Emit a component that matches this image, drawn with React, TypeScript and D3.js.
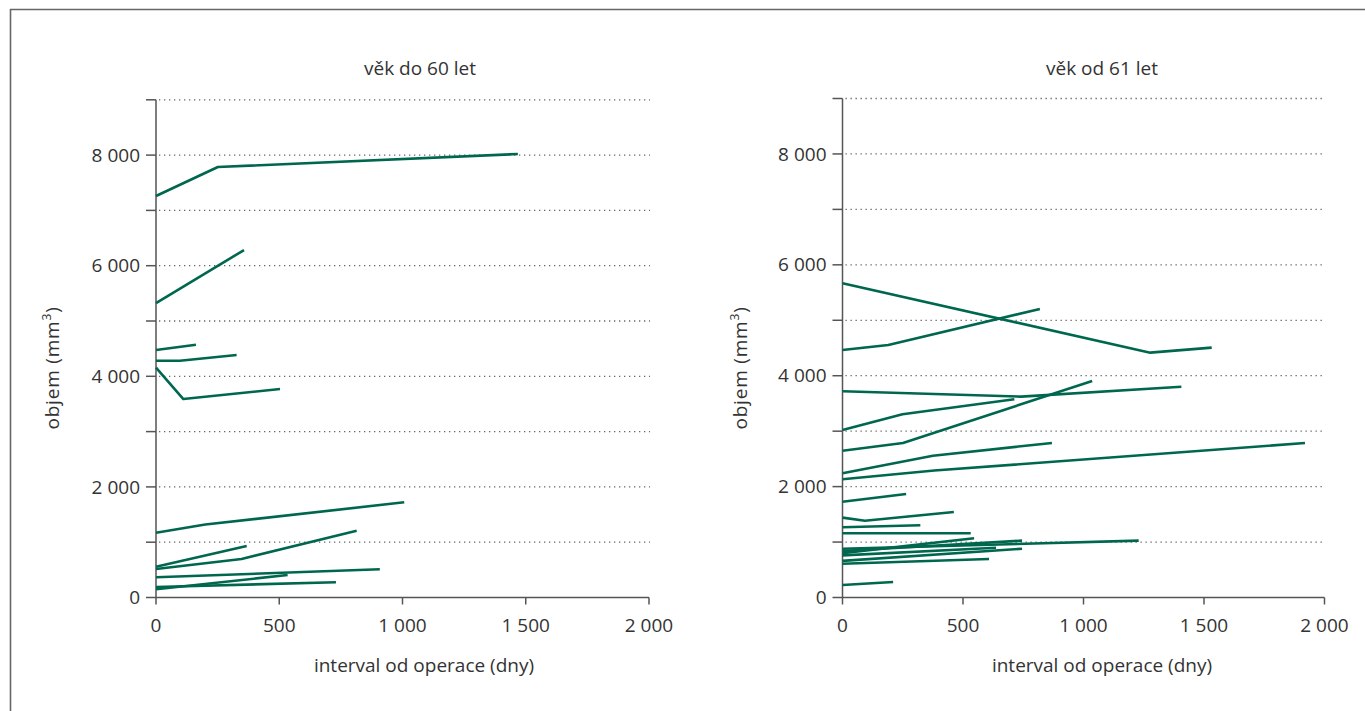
import React from "react";
import * as d3 from "d3";

// Data: each series is a list of [interval (days), volume (mm3)] points
const youngSeries: number[][][] = [
  [[0, 7260], [251, 7784], [1468, 8020]],
  [[0, 5325], [357, 6283]],
  [[0, 4475], [162, 4570]],
  [[0, 4282], [97, 4282], [327, 4385]],
  [[0, 4155], [111, 3589], [503, 3770]],
  [[0, 1171], [200, 1320], [1007, 1721]],
  [[0, 557], [368, 931]],
  [[0, 515], [347, 696], [814, 1208]],
  [[0, 365], [908, 510]],
  [[0, 148], [534, 407]],
  [[0, 190], [730, 276]],
];

const oldSeries: number[][][] = [
  [[0, 5668], [1277, 4416], [1532, 4506]],
  [[0, 4465], [190, 4555], [819, 5205]],
  [[0, 3720], [741, 3623], [1406, 3800]],
  [[0, 3022], [249, 3305], [713, 3576]],
  [[0, 2648], [251, 2787], [1036, 3906]],
  [[0, 2240], [375, 2558], [869, 2787]],
  [[0, 2133], [381, 2290], [1919, 2786]],
  [[0, 1728], [264, 1867]],
  [[0, 1440], [93, 1385], [462, 1542]],
  [[0, 1266], [323, 1302]],
  [[0, 1158], [532, 1158]],
  [[0, 800], [546, 1068]],
  [[0, 840], [745, 1025]],
  [[0, 880], [1229, 1025]],
  [[0, 760], [637, 898]],
  [[0, 660], [745, 880]],
  [[0, 610], [608, 695]],
  [[0, 225], [210, 280]],
];

const panelTitles = ["věk do 60 let", "věk od 61 let"];
const xTicks = [0, 500, 1000, 1500, 2000];
const yTicks = [0, 1000, 2000, 3000, 4000, 5000, 6000, 7000, 8000, 9000];
const yLabelTicks = [0, 2000, 4000, 6000, 8000];
const xTitle = "interval od operace (dny)";
const yTitle = "objem (mm";

const fmt = (v: number) => d3.format(",")(v).replace(/,/g, " ");

const LINE = "#00674f";
const AXIS = "#555";
const TEXT = "#333";
const FONT = "'Open Sans', 'Noto Sans', sans-serif";
const FS = 19;

type PanelProps = {
  series: number[][][];
  title: string;
  x0: number;
  x1: number;
  y0: number;
  y1: number;
  titleX: number;
  xTitleX: number;
  yTitleX: number;
};

function Panel({ series, title, x0, x1, y0, y1, titleX, xTitleX, yTitleX }: PanelProps) {
  const x = d3.scaleLinear().domain([0, 2000]).range([x0, x1]);
  const y = d3.scaleLinear().domain([0, 9000]).range([y0, y1]);
  const line = d3
    .line<number[]>()
    .x((d) => x(d[0]))
    .y((d) => y(d[1]));
  return (
    <g>
      <text x={titleX} y={75} textAnchor="middle" fontSize={FS} fill={TEXT} fontFamily={FONT}>
        {title}
      </text>
      {yTicks
        .filter((t) => t > 0)
        .map((t) => (
          <line
            key={"g" + t}
            x1={x0 + 3}
            x2={x1 + 1}
            y1={y(t)}
            y2={y(t)}
            stroke="#666"
            strokeWidth={1.3}
            strokeDasharray="1.3 3.7"
          />
        ))}
      {yTicks.map((t) => (
        <line key={"yt" + t} x1={x0 - 10} x2={x0} y1={y(t)} y2={y(t)} stroke={AXIS} strokeWidth={1.5} />
      ))}
      {yLabelTicks.map((t) => (
        <text
          key={"yl" + t}
          x={x0 - 16}
          y={y(t)}
          dy="0.35em"
          textAnchor="end"
          fontSize={FS}
          fill={TEXT}
          fontFamily={FONT}
        >
          {fmt(t)}
        </text>
      ))}
      {xTicks.map((t) => (
        <g key={"xt" + t}>
          <line x1={x(t)} x2={x(t)} y1={y0} y2={y0 + 7} stroke={AXIS} strokeWidth={1.5} />
          <text x={x(t)} y={632} textAnchor="middle" fontSize={FS} fill={TEXT} fontFamily={FONT}>
            {fmt(t)}
          </text>
        </g>
      ))}
      <line x1={x0} x2={x0} y1={y(9000)} y2={y0} stroke={AXIS} strokeWidth={1.5} />
      <line x1={x0} x2={x1} y1={y0} y2={y0} stroke={AXIS} strokeWidth={1.5} />
      {series.map((s, i) => (
        <path key={"s" + i} d={line(s) || ""} fill="none" stroke={LINE} strokeWidth={2.6} strokeLinejoin="round" />
      ))}
      <text x={xTitleX} y={672} textAnchor="middle" fontSize={FS} fill={TEXT} fontFamily={FONT}>
        {xTitle}
      </text>
      <text
        transform={`translate(${yTitleX},${368}) rotate(-90)`}
        textAnchor="middle"
        fontSize={FS}
        fill={TEXT}
        fontFamily={FONT}
        letterSpacing={0.8}
      >
        {yTitle}
        <tspan fontSize={12} dy={-8}>3</tspan>
        <tspan dy={8}>)</tspan>
      </text>
    </g>
  );
}

export default function App() {
  return (
    <svg
      width={1365}
      height={711}
      style={{ position: "absolute", left: 0, top: 0, background: "#fff" }}
    >
      <rect x={0} y={0} width={1365} height={711} fill="#fff" />
      <line x1={10} x2={1365} y1={9.5} y2={9.5} stroke="#666" strokeWidth={1.6} />
      <line x1={10.5} x2={10.5} y1={9} y2={711} stroke="#666" strokeWidth={1.6} />
      <Panel
        series={youngSeries}
        title={panelTitles[0]}
        x0={156}
        x1={649}
        y0={597.5}
        y1={99.8}
        titleX={420}
        xTitleX={424}
        yTitleX={59}
      />
      <Panel
        series={oldSeries}
        title={panelTitles[1]}
        x0={842.5}
        x1={1324.5}
        y0={597.5}
        y1={98.5}
        titleX={1102}
        xTitleX={1102}
        yTitleX={747}
      />
    </svg>
  );
}
